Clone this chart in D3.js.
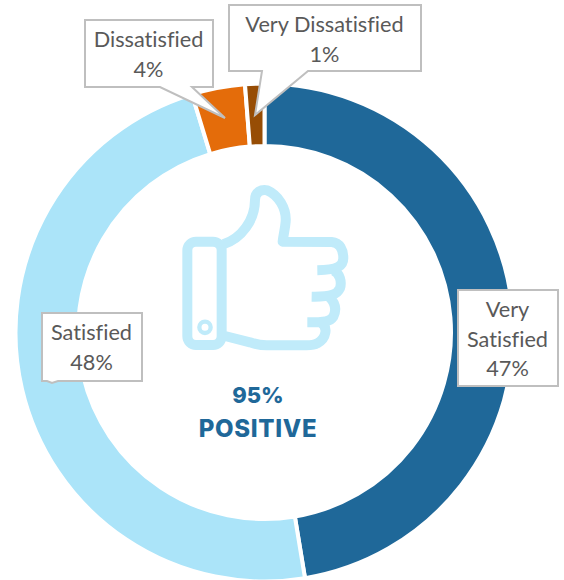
<!DOCTYPE html>
<html><head><meta charset="utf-8">
<script src="https://cdn.jsdelivr.net/npm/d3@7"></script>
<style>html,body{margin:0;padding:0;background:#fff}svg{display:block}</style>
</head><body><div id="c"></div>
<script>
const categories = ["Very Satisfied","Satisfied","Dissatisfied","Very Dissatisfied"];
const values = [47.4,47.9,3.45,1.25];
const labels = ["47%","48%","4%","1%"];
const colors = ["#1F6899","#ABE4F9","#E46C0A","#974D05"];
const W=564,H=580,cx=264.5,cy=332.5,R=249,r=186.5;
const svg=d3.select("#c").append("svg").attr("width",W).attr("height",H);
const pie=d3.pie().sort(null)(values);
const arc=d3.arc().innerRadius(r).outerRadius(R);
const g=svg.append("g").attr("transform",`translate(${cx},${cy})`);
g.selectAll("path").data(pie).join("path").attr("d",arc)
 .attr("fill",(d,i)=>colors[i]).attr("stroke","#fff").attr("stroke-width",4);

// thumb icon
const ic=svg.append("g").attr("transform","translate(170,175) scale(0.3333)")
 .attr("fill","none").attr("stroke","#C0EBFA").attr("stroke-width",30).attr("stroke-linecap","round").attr("stroke-linejoin","round");
ic.append("rect").attr("x",52).attr("y",200).attr("width",103).attr("height",310).attr("rx",26);
ic.append("path").attr("stroke-linecap","butt").attr("d","M160,208 C215,190 255,135 255,75 C255,50 275,42 292,46 C325,60 350,100 347,140 C345,165 340,180 338,200 L485,201 C510,203 520,225 520,250 C520,272 505,285 442,286 M490,286 C510,295 516,320 510,340 C502,358 485,366 425,365 M478,366 C497,385 500,405 490,425 C480,440 465,442 412,442 M452,442 C475,455 470,490 442,505 C432,511 420,511 410,511 L290,511 C270,511 255,507 240,502 L165,483");
ic.append("circle").attr("cx",105).attr("cy",457).attr("r",17).attr("stroke-width",13);

// center text
const ct=svg.append("g").attr("font-family","Inter, 'Open Sans', sans-serif").attr("font-weight",800).attr("fill","#1F6899").attr("text-anchor","middle");
ct.append("text").attr("x",258).attr("y",403).attr("font-size",22).text("95%");
ct.append("text").attr("x",258).attr("y",437).attr("font-size",24).attr("letter-spacing",0.7).text("POSITIVE");

// callouts
const boxes=[
 {i:0,x:458,y:290,w:100,h:96,lines:["Very","Satisfied"],ty:317,ptr:null},
 {i:1,x:42,y:313,w:100,h:68,lines:["Satisfied"],ty:340,ptr:[[47,381],[58,381],[52,383]]},
 {i:2,x:85,y:20,w:128,h:67,lines:["Dissatisfied"],ty:47,ptr:[[160,87],[192,87],[225,118]]},
 {i:3,x:229,y:5,w:192,h:66,lines:["Very Dissatisfied"],ty:32,ptr:[[262,71],[308,71],[255,115]]}
];
const lh=29.5;
const order=[1,2,0,3];
order.forEach(k=>{
 const b=boxes[k];
 let pts=[[b.x,b.y],[b.x+b.w,b.y],[b.x+b.w,b.y+b.h]];
 if(b.ptr){pts.push(b.ptr[1],b.ptr[2],b.ptr[0]);}
 pts.push([b.x,b.y+b.h]);
 svg.append("path").attr("d",d3.line()(pts)+"Z").attr("fill","#fff").attr("stroke","#BFBFBF").attr("stroke-width",2);
 const t=svg.append("text").attr("font-family","Lato, Carlito, sans-serif").attr("font-size",21.7).attr("fill","#595959").attr("text-anchor","middle").style("font-variant-ligatures","none");
 const tx=b.x+b.w/2-0.5;
 [...b.lines,labels[b.i]].forEach((s,j)=>t.append("tspan").attr("x",tx).attr("y",b.ty+j*lh).text(s));
});
</script></body></html>
